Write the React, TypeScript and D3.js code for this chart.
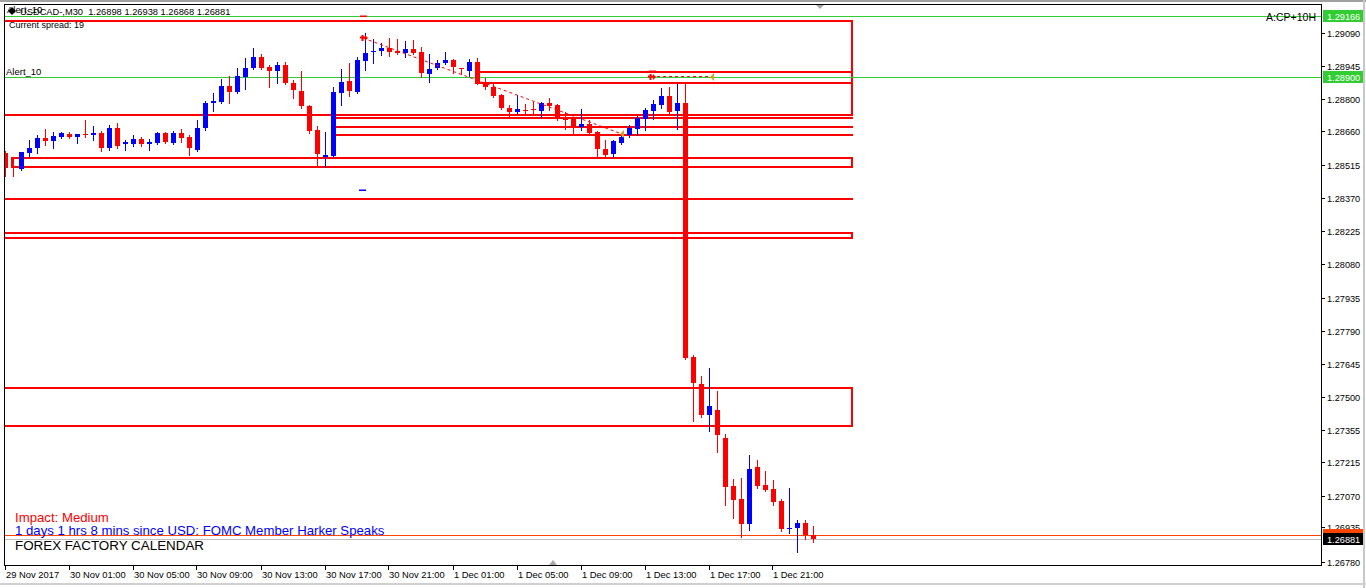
import React from "react";
import * as d3 from "d3";

// ---------- DATA ----------
const opens = [1.28566,1.28544,1.28496,1.28566,1.28588,1.28631,1.28618,1.28636,1.28649,1.28636,1.28649,1.28645,1.28653,1.28588,1.28675,1.28605,1.28605,1.28627,1.28605,1.28610,1.28653,1.28610,1.28653,1.28636,1.28579,1.28675,1.28784,1.28789,1.28859,1.28832,1.28898,1.28937,1.28985,1.28942,1.28924,1.28950,1.28872,1.28837,1.28771,1.28666,1.28549,1.28553,1.28828,1.28880,1.28832,1.28968,1.29007,1.29011,1.29025,1.29011,1.29003,1.29020,1.29007,1.28911,1.28937,1.28959,1.28972,1.28937,1.28924,1.28963,1.28872,1.28854,1.28819,1.28763,1.28745,1.28754,1.28758,1.28749,1.28784,1.28776,1.28723,1.28719,1.28680,1.28693,1.28658,1.28583,1.28562,1.28610,1.28645,1.28671,1.28714,1.28749,1.28776,1.28815,1.28749,1.28784,1.27675,1.27557,1.27422,1.27444,1.27321,1.27112,1.27055,1.26946,1.27195,1.27116,1.27099,1.27046,1.26924,1.26928,1.26950,1.26898];
const highs = [1.28575,1.28544,1.28570,1.28623,1.28645,1.28671,1.28658,1.28658,1.28658,1.28651,1.28710,1.28684,1.28662,1.28688,1.28697,1.28623,1.28645,1.28636,1.28627,1.28658,1.28658,1.28662,1.28671,1.28645,1.28710,1.28793,1.28828,1.28889,1.28902,1.28937,1.28981,1.29025,1.28998,1.28950,1.28963,1.28963,1.28885,1.28924,1.28776,1.28684,1.28658,1.28854,1.28933,1.28959,1.28985,1.29090,1.29064,1.29046,1.29068,1.29064,1.29055,1.29059,1.29029,1.28998,1.28972,1.29007,1.28976,1.28937,1.28976,1.28981,1.28893,1.28867,1.28824,1.28776,1.28819,1.28780,1.28789,1.28789,1.28806,1.28780,1.28745,1.28723,1.28758,1.28710,1.28662,1.28623,1.28623,1.28653,1.28688,1.28728,1.28763,1.28797,1.28850,1.28854,1.28867,1.28867,1.27684,1.27592,1.27627,1.27527,1.27339,1.27142,1.27147,1.27247,1.27225,1.27177,1.27138,1.27055,1.27103,1.26963,1.26963,1.26938];
const lows = [1.28466,1.28466,1.28492,1.28549,1.28566,1.28601,1.28588,1.28631,1.28631,1.28610,1.28636,1.28623,1.28575,1.28579,1.28588,1.28579,1.28597,1.28597,1.28579,1.28605,1.28610,1.28605,1.28614,1.28557,1.28575,1.28666,1.28749,1.28784,1.28784,1.28828,1.28845,1.28933,1.28933,1.28854,1.28872,1.28867,1.28806,1.28763,1.28653,1.28505,1.28505,1.28549,1.28776,1.28815,1.28828,1.28928,1.28959,1.28994,1.28990,1.28998,1.28985,1.28998,1.28898,1.28876,1.28933,1.28955,1.28915,1.28911,1.28902,1.28867,1.28845,1.28811,1.28758,1.28723,1.28741,1.28741,1.28741,1.28723,1.28754,1.28710,1.28671,1.28653,1.28666,1.28649,1.28544,1.28549,1.28549,1.28605,1.28636,1.28645,1.28666,1.28714,1.28763,1.28741,1.28671,1.27666,1.27396,1.27413,1.27352,1.27260,1.27029,1.26972,1.26889,1.26920,1.27103,1.27090,1.27029,1.26915,1.26907,1.26824,1.26881,1.26868];
const closes = [1.28500,1.28540,1.28570,1.28588,1.28631,1.28618,1.28640,1.28653,1.28636,1.28649,1.28645,1.28653,1.28588,1.28675,1.28597,1.28614,1.28627,1.28605,1.28614,1.28653,1.28614,1.28653,1.28631,1.28588,1.28675,1.28784,1.28793,1.28859,1.28832,1.28902,1.28937,1.28985,1.28937,1.28924,1.28950,1.28872,1.28841,1.28771,1.28662,1.28562,1.28557,1.28832,1.28876,1.28837,1.28972,1.29003,1.29011,1.29025,1.29007,1.29003,1.29020,1.29003,1.28915,1.28933,1.28959,1.28972,1.28942,1.28933,1.28963,1.28872,1.28854,1.28815,1.28763,1.28745,1.28758,1.28750,1.28752,1.28784,1.28771,1.28719,1.28710,1.28680,1.28693,1.28653,1.28583,1.28557,1.28618,1.28636,1.28675,1.28719,1.28754,1.28780,1.28815,1.28745,1.28784,1.27671,1.27562,1.27422,1.27461,1.27335,1.27107,1.27051,1.26946,1.27186,1.27112,1.27094,1.27042,1.26924,1.26928,1.26950,1.26898,1.26881];

const priceTicks = [1.29090,1.28945,1.28800,1.28660,1.28515,1.28370,1.28225,1.28080,1.27935,1.27790,1.27645,1.27500,1.27355,1.27215,1.27070,1.26935,1.26780];
const timeTickBars = [0,8,16,24,32,40,48,56,64,72,80,88,96];
const timeTickLabels = ["29 Nov 2017","30 Nov 01:00","30 Nov 05:00","30 Nov 09:00","30 Nov 13:00","30 Nov 17:00","30 Nov 21:00","1 Dec 01:00","1 Dec 05:00","1 Dec 09:00","1 Dec 13:00","1 Dec 17:00","1 Dec 21:00"];

// zones: [fromBar, toBar, topPrice, bottomPrice]
const zoneRects = [
  [-2, 105.8, 1.29143, 1.28732],
  [58.8, 105.8, 1.28920, 1.28872],
  [0.8, 105.8, 1.28544, 1.28505],
  [-2, 105.8, 1.28217, 1.28193],
  [-2, 105.8, 1.27540, 1.27376],
];
// horizontal zone lines: [fromBar, toBar, price]
const zoneLines = [
  [40.9, 105.8, 1.28719],
  [40.9, 105.8, 1.28680],
  [40.9, 105.8, 1.28645],
  [-2, 105.8, 1.28365],
];

// trade lines: [openBar, openPrice, closeBar, closePrice]
const trades = [
  [44.7, 1.29068, 77.05, 1.28649],
  [80.7, 1.28900, 88.3, 1.28900],
];
// small level markers: [bar, price, color]
const markers: [number, number, string][] = [
  [44.7, 1.29166, "#ff0000"],
  [44.5, 1.28404, "#0000ff"],
  [80.8, 1.28926, "#ff0000"],
];

const levelLines = [
  { price: 1.29166, color: "#32cd32", box: "#32cd32", text: "#ffffff" },
  { price: 1.28900, color: "#32cd32", box: "#32cd32", text: "#ffffff" },
  { price: 1.26900, color: "#ff4500", box: "#ff4500", text: "#ffffff" },
  { price: 1.26881, color: "#c0c0c0", box: "#000000", text: "#ffffff" },
];

const header = "USDCAD-,M30  1.26898 1.26938 1.26868 1.26881";

// ---------- COMPONENT ----------
export default function App() {
  const W = 1366, H = 588;
  const L = 4, T = 4, R = 1321, B = 565;
  const x = d3.scaleLinear().domain([0, 101]).range([5.5, 813.5]);
  const y = d3.scaleLinear().domain([1.26780, 1.29090]).range([562, 33]);
  const font = "'Liberation Sans', Arial, sans-serif";

  const candles = opens.map((o, i) => ({ i, o, h: highs[i], l: lows[i], c: closes[i] }));

  return (
    <svg width={W} height={H} style={{ position: "absolute", left: 0, top: 0, display: "block", background: "#fff" }}>
      <defs>
        <clipPath id="plot">
          <rect x={L} y={T} width={R - L} height={B - T} />
        </clipPath>
      </defs>
      {/* window edges */}
      <rect x={0} y={0} width={W} height={2} fill="#a0a0a0" />
      <rect x={1363} y={0} width={2} height={H} fill="#c8c8c8" />
      <rect x={0} y={583} width={W} height={2} fill="#d0d0d0" />

      <g clipPath="url(#plot)">
        {/* zones */}
        {zoneRects.map((z, k) => {
          const x0 = Math.round(x(z[0])), x1 = Math.round(x(z[1]));
          const y0 = Math.round(y(z[2])), y1 = Math.round(y(z[3]));
          return <rect key={"zr" + k} x={x0} y={y0} width={x1 - x0} height={y1 - y0} fill="none" stroke="#ff0000" strokeWidth={2} />;
        })}
        {zoneLines.map((z, k) => {
          const yy = Math.round(y(z[2]));
          return <line key={"zl" + k} x1={x(z[0])} x2={Math.round(x(z[1])) + 1} y1={yy} y2={yy} stroke="#ff0000" strokeWidth={2} />;
        })}

        {/* level lines */}
        {levelLines.map((lv, k) => {
          const yy = Math.round(y(lv.price)) + 0.5;
          return <line key={"lv" + k} x1={L} x2={R} y1={yy} y2={yy} stroke={lv.color} strokeWidth={1} />;
        })}

        {/* candles */}
        {candles.map((d) => {
          const cx = x(d.i);
          const up = d.c > d.o;
          const col = up ? "#0000ff" : "#ff0000";
          const top = Math.round(y(Math.max(d.o, d.c)));
          const bot = Math.round(y(Math.min(d.o, d.c)));
          return (
            <g key={"c" + d.i}>
              <line x1={cx} x2={cx} y1={Math.round(y(d.h))} y2={Math.round(y(d.l)) + 1} stroke={col} strokeWidth={1} />
              <rect x={cx - 2.5} y={top} width={5} height={Math.max(1, bot - top)} fill={col} />
            </g>
          );
        })}

        {/* trade lines */}
        {trades.map((t, k) => (
          <line key={"t" + k} x1={x(t[0])} y1={y(t[1])} x2={x(t[2])} y2={y(t[3])} stroke="#ff0000" strokeWidth={1} strokeDasharray="3,3" />
        ))}
        {trades.map((t, k) => {
          const ox = Math.round(x(t[0])), oy = Math.round(y(t[1]));
          const cx = Math.round(x(t[2])), cy = Math.round(y(t[3]));
          return (
            <g key={"ta" + k}>
              <path d={`M${ox - 3},${oy - 0.5}h6 M${ox - 0.5},${oy - 3}v6`} stroke="#ff0000" strokeWidth={2} />
              <path d={`M${ox + 2},${oy - 3}L${ox + 5},${oy}L${ox + 2},${oy + 3}Z`} fill="#ff0000" />
              <path d={`M${cx - 2},${cy}L${cx + 2},${cy - 4}L${cx + 2},${cy + 4}Z`} fill="#e0a020" />
            </g>
          );
        })}
        {markers.map((m, k) => {
          const mx = Math.round(x(m[0])), my = Math.round(y(m[1]));
          return <rect key={"m" + k} x={mx - 3} y={my - 0.5} width={7} height={1.5} fill={m[2]} />;
        })}

        {/* chart texts */}
        <text x={7} y={13} fontFamily={font} fontSize={9.5} fill="#000">Alert_10</text>
        <path d="M8,11 L12,7 L16,11 L12,15 Z" fill="#000" />
        <text x={20} y={15} fontFamily={font} fontSize={9.3} fill="#000" style={{ whiteSpace: "pre" }}>{header}</text>
        <text x={9} y={28} fontFamily={font} fontSize={9} fill="#000">Current spread: 19</text>
        <text x={6} y={75} fontFamily={font} fontSize={9.5} fill="#000">Alert_10</text>
        <text x={1316} y={21} textAnchor="end" fontFamily={font} fontSize={10.5} fill="#000">A:CP+10H</text>
        <text x={15} y={522} fontFamily={font} fontSize={13.2} fill="#ff0000">Impact: Medium</text>
        <text x={15} y={535} fontFamily={font} fontSize={13.2} fill="#0000ff">1 days 1 hrs 8 mins since USD: FOMC Member Harker Speaks</text>
        <text x={15} y={550} fontFamily={font} fontSize={13.4} fill="#000">FOREX FACTORY CALENDAR</text>
      </g>

      {/* shift markers */}
      <path d="M815,4 L825,4 L820,9 Z" fill="#a8a8a8" />
      <path d="M549,565 L557,565 L553,560 Z" fill="#a8a8a8" />

      {/* frame */}
      <rect x={L + 0.5} y={T + 0.5} width={R - L} height={B - T} fill="none" stroke="#000" strokeWidth={1} />

      {/* price axis */}
      {priceTicks.map((p, k) => {
        const yy = Math.round(y(p)) + 0.5;
        return (
          <g key={"pt" + k}>
            <line x1={R + 1} x2={R + 4} y1={yy} y2={yy} stroke="#000" />
            <text x={1327} y={yy + 3.5} fontFamily={font} fontSize={9.2} fill="#000">{p.toFixed(5)}</text>
          </g>
        );
      })}
      {levelLines.map((lv, k) => {
        const yy = Math.round(y(lv.price));
        return (
          <g key={"lb" + k}>
            <rect x={1323} y={yy - 6} width={40} height={12} fill={lv.box} />
            <text x={1327} y={yy + 4} fontFamily={font} fontSize={9.2} fill={lv.text}>{lv.price.toFixed(5)}</text>
          </g>
        );
      })}

      {/* time axis */}
      {timeTickBars.map((b, k) => {
        const xx = Math.round(x(b)) - 0.5;
        return (
          <g key={"tt" + k}>
            <line x1={xx} x2={xx} y1={B + 1} y2={B + 5} stroke="#000" />
            <text x={xx + 0.5} y={578} fontFamily={font} fontSize={9.4} fill="#000">{timeTickLabels[k]}</text>
          </g>
        );
      })}
    </svg>
  );
}
